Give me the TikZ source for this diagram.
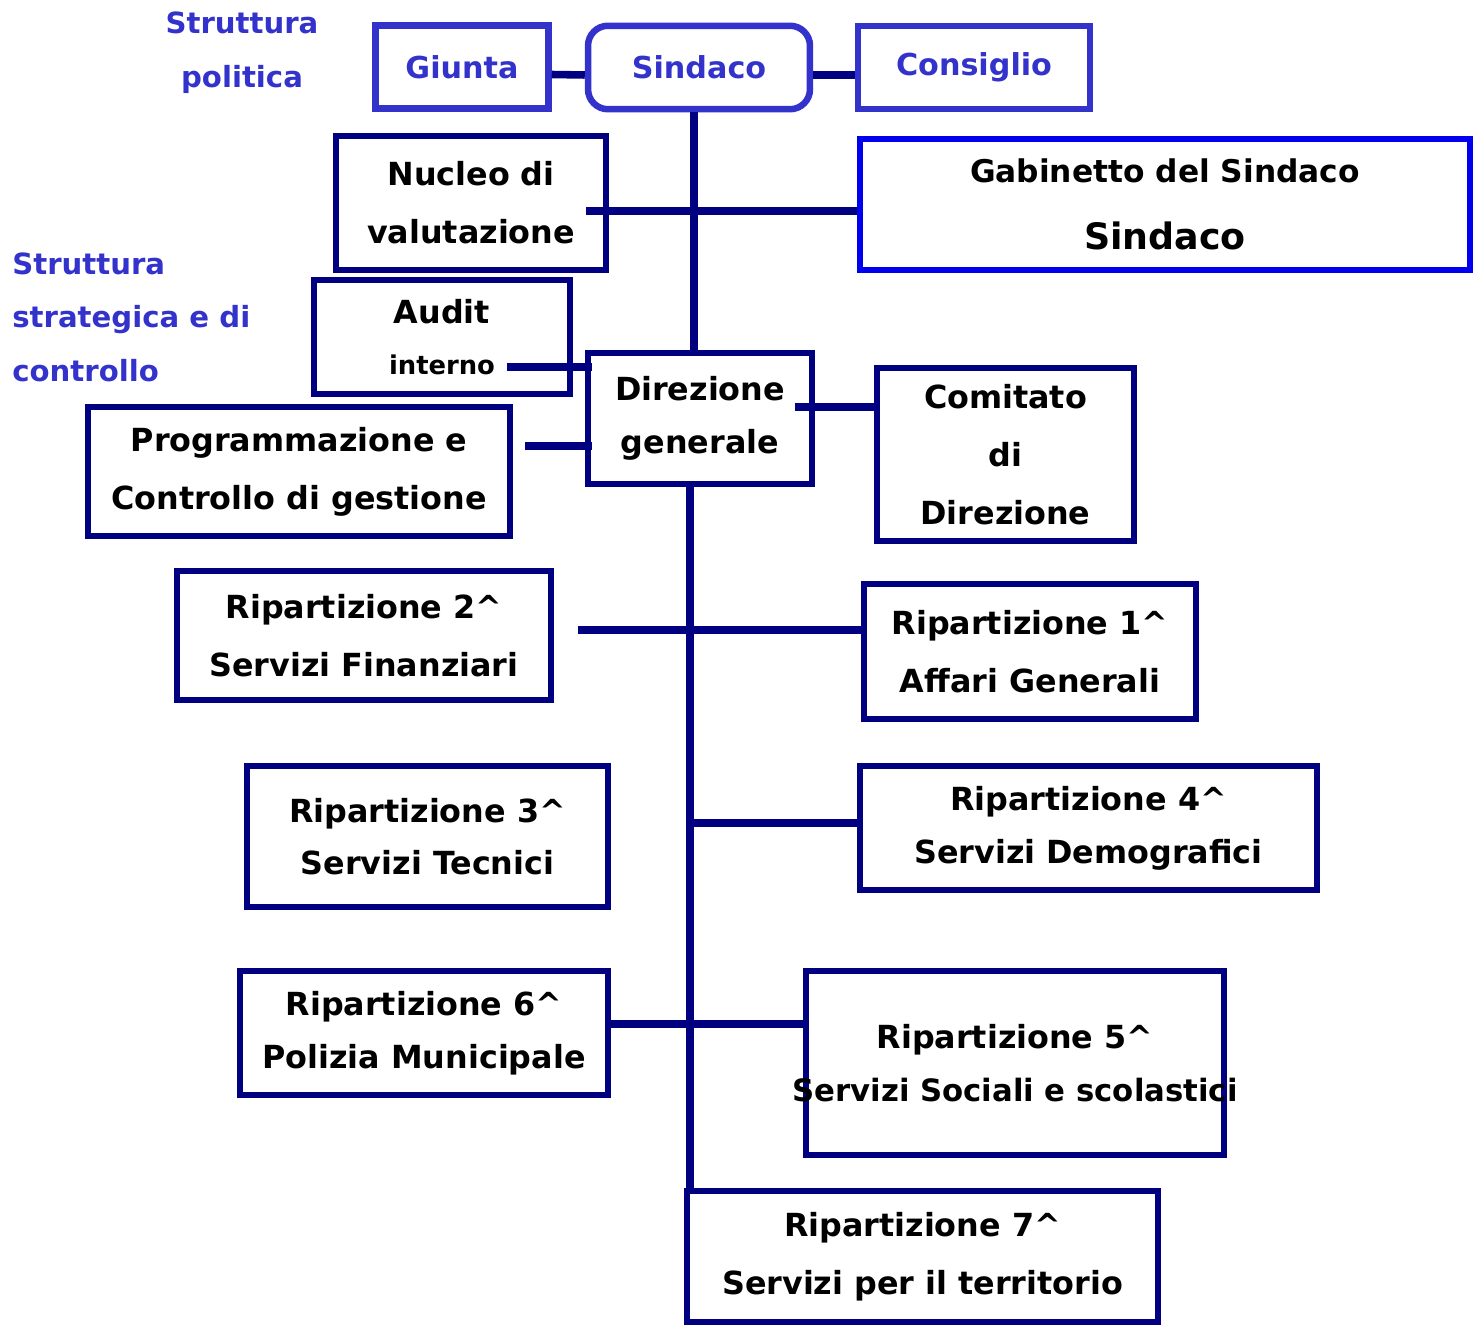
\documentclass[tikz,border=0pt]{standalone}
\usepackage{fontspec}
\setmainfont{DejaVu Sans}
\usepackage{xcolor}
\usepackage{tikz}
\usetikzlibrary{positioning, calc}
\definecolor{clrNavy}{HTML}{000080}
\definecolor{clrPol}{HTML}{3333CC}
\definecolor{clrGab}{HTML}{0000EE}
\tikzset{
  org box/.style={rectangle, draw=clrNavy, line width=3.7pt, inner sep=0pt, align=center, font=\fontsize{18.1}{33}\selectfont\bfseries},
  org tight/.style={org box, font=\fontsize{18.1}{30}\selectfont\bfseries},
  pol box/.style={rectangle, draw=clrPol, line width=3.7pt, inner sep=0pt, minimum height=1.67cm, text=clrPol, font=\fontsize{17.2}{20}\selectfont\bfseries},
  gab box/.style={rectangle, draw=clrGab, line width=3pt, inner sep=0pt, align=center, font=\fontsize{17.8}{20}\selectfont\bfseries},
  side label/.style={text=clrPol, inner sep=0pt, font=\fontsize{16.6}{30.5}\selectfont\bfseries},
  link/.style={draw=clrNavy, line width=4.3pt},
}

\begin{document}
\begin{tikzpicture}[x=0.02cm, y=-0.02cm]
  \useasboundingbox (0,0) rectangle (1473,1327);

  % Struttura politica
  \node[side label, align=center] (lblPol) at (242,53) {Struttura\\politica};
  \node[pol box, minimum width=3.46cm] (giunta) at (462,67) {Giunta};
  \node[pol box, minimum width=4.44cm, rounded corners=0.4cm] (sindacoTop) at (699,67.5) {Sindaco};
  \node[pol box, minimum width=4.64cm] (consiglio) at (974,67.5) {Consiglio};

  % Struttura strategica e di controllo
  \node[side label, align=left, anchor=west] (lblStrat) at (12,317) {Struttura\\strategica e di\\controllo};
  \node[org box, minimum width=5.4cm, minimum height=2.68cm] (nucleo) at (471,203) {Nucleo di\\valutazione};
  \node[gab box, minimum width=12.2cm, minimum height=2.62cm] (gab) at (1165,204.5) {Gabinetto del Sindaco\\[18pt]{\fontsize{20.7}{24}\selectfont Sindaco}};
  \node[org box, minimum width=5.12cm, minimum height=2.28cm, font=\fontsize{18.1}{29}\selectfont\bfseries] (audit) at (442,337) {Audit\\{\fontsize{14.7}{17}\selectfont interno}};
  \node[org tight, minimum width=4.48cm, minimum height=2.62cm] (dir) at (700,418.5) {Direzione\\generale};
  \node[org box, minimum width=8.44cm, minimum height=2.58cm] (prog) at (299,471.5) {Programmazione e\\Controllo di gestione};
  \node[org box, minimum width=5.14cm, minimum height=3.46cm] (comitato) at (1005.5,454.5) {Comitato\\di\\Direzione};

  % Ripartizioni
  \node[org box, minimum width=7.48cm, minimum height=2.58cm] (rip2) at (364,635.5) {Ripartizione 2\textasciicircum\\Servizi Finanziari};
  \node[org box, minimum width=6.64cm, minimum height=2.7cm] (rip1) at (1030,651.5) {Ripartizione 1\textasciicircum\\Affari Generali};
  \node[org tight, minimum width=7.22cm, minimum height=2.82cm] (rip3) at (427.5,836.5) {Ripartizione 3\textasciicircum\\Servizi Tecnici};
  \node[org tight, minimum width=9.14cm, minimum height=2.48cm] (rip4) at (1088.5,828) {Ripartizione 4\textasciicircum\\Servizi Demografici};
  \node[org tight, minimum width=7.36cm, minimum height=2.48cm] (rip6) at (424,1033) {Ripartizione 6\textasciicircum\\Polizia Municipale};
  \node[org tight, minimum width=8.36cm, minimum height=3.68cm] (rip5) at (1015,1063) {Ripartizione 5\textasciicircum\\\makebox[0pt]{\fontsize{17.5}{30}\selectfont Servizi Sociali e scolastici}};
  \node[org box, minimum width=9.42cm, minimum height=2.62cm] (rip7) at (922.5,1256.5) {Ripartizione 7\textasciicircum\\Servizi per il territorio};

  % Connectors
  \coordinate (nv) at (586,211);
  \coordinate (ai) at (507,367);
  \coordinate (pc) at (525,446);
  \coordinate (dc) at (795,407);
  \coordinate (r2) at (578,630);
  \coordinate (r4) at (690,823);
  \coordinate (tr) at (690,487);
  \draw[link] ([yshift=-0.15cm]giunta.east) -- ([yshift=-0.15cm]sindacoTop.west);
  \draw[link] ([yshift=-0.15cm]sindacoTop.east) -- ([yshift=-0.15cm]consiglio.west);
  \draw[link] ([xshift=-0.1cm]sindacoTop.south) -- ([xshift=-0.1cm]sindacoTop.south |- dir.north);
  \draw[link] (nv) -- (nv -| gab.west);
  \draw[link] (ai) -- ($(ai -| dir.west)+(7,0)$);
  \draw[link] (pc) -- ($(pc -| dir.west)+(7,0)$);
  \draw[link] (dc) -- (dc -| comitato.west);
  \draw[link] (tr) -- (tr |- rip7.north);
  \draw[link] (r2) -- (r2 -| rip1.west);
  \draw[link] (r4) -- (r4 -| rip4.west);
  \draw[link] ([yshift=0.18cm]rip6.east) -- ([yshift=0.18cm]rip6.east -| rip5.west);
\end{tikzpicture}
\end{document}
